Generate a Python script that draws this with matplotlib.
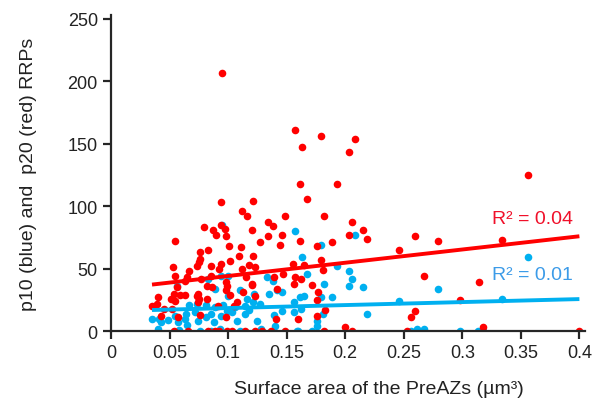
import numpy as np
import matplotlib.pyplot as plt

plt.rcParams['font.family'] = ['Liberation Sans', 'DejaVu Sans']

# p20 readily releasable pools (red)
red_x = [0.095, 0.157, 0.179, 0.208, 0.163, 0.203, 0.161, 0.193, 0.167, 0.182,
         0.206, 0.215, 0.203, 0.219, 0.161, 0.176, 0.189, 0.179, 0.165, 0.155,
         0.181, 0.162, 0.156, 0.172, 0.177, 0.176, 0.183, 0.160, 0.176, 0.200,
         0.206, 0.182, 0.246, 0.260, 0.279, 0.267, 0.260, 0.256, 0.253, 0.298,
         0.314, 0.318, 0.334, 0.356, 0.400,
         0.094, 0.121, 0.112, 0.116, 0.149, 0.134, 0.138, 0.079, 0.087, 0.094,
         0.097, 0.090, 0.098, 0.120, 0.146, 0.055, 0.127, 0.134, 0.144, 0.101,
         0.111, 0.076, 0.083, 0.121, 0.109, 0.102, 0.076, 0.075, 0.073, 0.085,
         0.094, 0.092, 0.067, 0.053, 0.112, 0.118, 0.123, 0.065, 0.055, 0.077,
         0.085, 0.115, 0.147, 0.139, 0.157, 0.063, 0.098, 0.120, 0.056, 0.082,
         0.086, 0.099, 0.098, 0.120, 0.054, 0.059, 0.063, 0.074, 0.073, 0.075,
         0.082, 0.102, 0.113, 0.123, 0.142, 0.040, 0.051, 0.055, 0.039, 0.074,
         0.091, 0.108, 0.105, 0.035, 0.045, 0.052, 0.043, 0.076, 0.098, 0.141,
         0.057, 0.054, 0.066, 0.083, 0.092, 0.089, 0.099, 0.103, 0.114, 0.123,
         0.129, 0.137, 0.149]
red_y = [207, 161, 156, 154, 147, 143, 118, 118, 106, 92,
         87, 81, 77, 74, 72, 68, 71, 57, 53, 54,
         49, 42, 38, 37, 31, 25, 17, 10, 12, 3,
         0, 0, 65, 76, 72, 44, 16, 11, 0, 25,
         39, 3, 73, 125, 0,
         103, 104, 96, 92, 92, 87, 84, 83, 81, 85,
         82, 77, 76, 81, 77, 72, 71, 76, 69, 68,
         67, 63, 65, 60, 60, 56, 58, 55, 52, 52,
         54, 50, 48, 51, 50, 53, 51, 43, 44, 42,
         44, 43, 46, 43, 43, 40, 39, 38, 35, 36,
         35, 36, 33, 37, 30, 29, 29, 30, 28, 26,
         26, 29, 31, 28, 34, 27, 26, 24, 22, 23,
         20, 23, 20, 20, 18, 18, 12, 13, 11, 10,
         11, 0, 0, 0, 0, 0, 0, 0, 0, 0,
         0, 0, 0]

# p10 readily releasable pools (blue)
blue_x = [0.157, 0.208, 0.179, 0.163, 0.167, 0.193, 0.203, 0.206, 0.203, 0.182,
          0.161, 0.165, 0.189, 0.215, 0.179, 0.162, 0.156, 0.176, 0.176, 0.181,
          0.219, 0.246, 0.279, 0.334, 0.356, 0.160, 0.172, 0.256, 0.261, 0.267,
          0.298, 0.313, 0.318,
          0.095, 0.056, 0.094, 0.100, 0.083, 0.089, 0.110, 0.133, 0.138, 0.142,
          0.146, 0.135, 0.100, 0.116, 0.122, 0.067, 0.073, 0.081, 0.089, 0.096,
          0.106, 0.114, 0.121, 0.127, 0.156, 0.035, 0.041, 0.043, 0.049, 0.055,
          0.057, 0.064, 0.063, 0.065, 0.072, 0.074, 0.081, 0.085, 0.088, 0.094,
          0.099, 0.103, 0.108, 0.114, 0.118, 0.125, 0.139, 0.146, 0.040, 0.058,
          0.076, 0.085, 0.093, 0.110, 0.128, 0.140, 0.159]
blue_y = [80, 77, 69, 59, 46, 52, 48, 42, 36, 38,
          27, 28, 27, 35, 27, 18, 15, 8, 4, 14,
          14, 24, 34, 26, 59, 0, 0, 0, 2, 2,
          0, 0, 0,
          85, 36, 44, 44, 42, 34, 33, 43, 40, 33,
          31, 30, 28, 26, 30, 21, 22, 21, 19, 21,
          19, 20, 23, 22, 23, 10, 10, 7, 9, 12,
          7, 14, 10, 5, 15, 8, 11, 14, 7, 12,
          16, 15, 8, 14, 17, 8, 13, 16, 2, 1,
          0, 0, 2, 0, 2, 4, 0]

# linear trendlines (slope, intercept) and their R² labels
red_fit = [106.0, 33.5]
blue_fit = [24.0, 16.0]
red_r2 = '0.04'
blue_r2 = '0.01'

RED = '#FF0000'
BLUE = '#00B0F0'

fig = plt.figure(figsize=(5.95, 4.02), dpi=100)
ax = fig.add_axes([0.1866, 0.174, 0.797, 0.786])

ax.scatter(blue_x, blue_y, s=30, color=BLUE, linewidths=0, zorder=2)
ax.scatter(red_x, red_y, s=30, color=RED, linewidths=0, zorder=3)

# both trendlines run across the full range of areas
all_x = red_x + blue_x
lx = np.array([min(all_x), max(all_x)])
for fit, col in [(red_fit, RED), (blue_fit, BLUE)]:
    ax.plot(lx, fit[0] * lx + fit[1], color=col, lw=2.8, zorder=4,
            solid_capstyle='butt')

ax.text(0.325, 90, 'R² = ' + red_r2, color='#F0102A', fontsize=14,
        va='center', ha='left')
ax.text(0.325, 45, 'R² = ' + blue_r2, color='#3C9BE8', fontsize=14,
        va='center', ha='left')

ax.set_xlim(0, 0.405)
ax.set_ylim(0, 253)
ax.set_xticks([0, 0.05, 0.1, 0.15, 0.2, 0.25, 0.3, 0.35, 0.4])
ax.set_xticklabels(['0', '0.05', '0.1', '0.15', '0.2', '0.25', '0.3', '0.35', '0.4'])
ax.set_yticks([0, 50, 100, 150, 200, 250])

for side in ['top', 'right']:
    ax.spines[side].set_visible(False)
for side in ['left', 'bottom']:
    ax.spines[side].set_color('#262626')
    ax.spines[side].set_linewidth(1.6)
ax.spines['bottom'].set_zorder(5)
ax.tick_params(axis='both', colors='#262626', width=1.6, length=6,
               labelsize=13, labelcolor='#222222')

ax.set_xlabel('Surface area of the PreAZs (µm³)', fontsize=14,
              color='#222222', labelpad=11)
ax.xaxis.set_label_coords(0.565, -0.155)
ax.set_ylabel('p10 (blue) and  p20 (red) RRPs', fontsize=14,
              color='#222222', labelpad=22)

fig.savefig('out.png', dpi=100)
